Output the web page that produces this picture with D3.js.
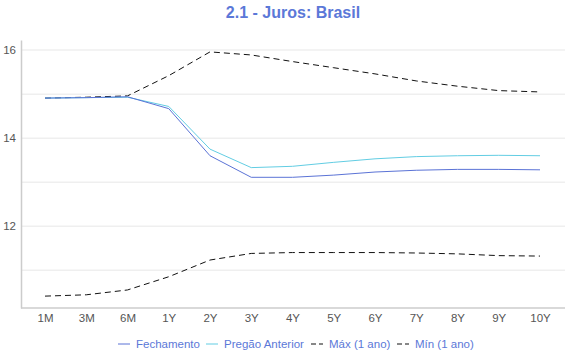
<!DOCTYPE html>
<html><head><meta charset="utf-8">
<script src="https://cdn.jsdelivr.net/npm/d3@7"></script>
<style>body{margin:0;background:#fff;font-family:"Liberation Sans",Arial,sans-serif}</style>
</head><body><svg id="c" width="570" height="360"></svg>
<script>
const categories = ["1M","3M","6M","1Y","2Y","3Y","4Y","5Y","6Y","7Y","8Y","9Y","10Y"];
const fechamento = [14.91,14.92,14.94,14.67,13.60,13.11,13.11,13.16,13.23,13.27,13.29,13.29,13.28];
const pregaoAnterior = [14.91,14.92,14.93,14.72,13.75,13.33,13.36,13.45,13.53,13.58,13.60,13.61,13.60];
const maxAno = [14.91,14.93,14.96,15.42,15.96,15.89,15.74,15.60,15.46,15.30,15.18,15.08,15.05];
const minAno = [10.41,10.44,10.55,10.85,11.23,11.38,11.40,11.40,11.40,11.39,11.37,11.33,11.32];
const yTicks = [12,14,16];
const gridTicks = [11,12,13,14,15,16];

const series = [
  {name:"Fechamento", values:fechamento, color:"#5b73d6", dash:null},
  {name:"Pregão Anterior", values:pregaoAnterior, color:"#62cde3", dash:null},
  {name:"Máx (1 ano)", values:maxAno, color:"#111", dash:"6,4"},
  {name:"Mín (1 ano)", values:minAno, color:"#111", dash:"6,4"}
];

const svg = d3.select("#c");
const L = 21, R = 565, T = 40, B = 308;
const x = d3.scalePoint().domain(categories).range([45, 540]);
const y = d3.scaleLinear().domain([10.14, 16.23]).range([B, T]);

svg.append("text").attr("x",293).attr("y",18).attr("text-anchor","middle")
  .attr("font-size",16).attr("font-weight","bold").attr("fill","#5b78d8").text("2.1 - Juros: Brasil");

svg.append("g").selectAll("line").data(gridTicks).join("line")
  .attr("x1",L).attr("x2",R).attr("y1",d=>y(d)).attr("y2",d=>y(d))
  .attr("stroke","#efefef").attr("stroke-width",1.5);

// y axis
const ya = svg.append("g").attr("transform",`translate(${L},0)`)
  .call(d3.axisLeft(y).tickValues(yTicks).tickSize(0).tickPadding(5).tickFormat(d3.format("d")));
ya.select(".domain").attr("stroke","#ccc").attr("stroke-width",1.5);
ya.selectAll("text").attr("font-size",11.5).attr("fill","#555").attr("font-family","Liberation Sans, Arial, sans-serif");

// x axis
const xa = svg.append("g").attr("transform",`translate(0,${B})`)
  .call(d3.axisBottom(x).tickSize(0).tickPadding(6));
xa.select(".domain").attr("d",`M${L},0H${R}`).attr("stroke","#ccc").attr("stroke-width",1.5);
xa.selectAll("text").attr("font-size",11.5).attr("fill","#555").attr("font-family","Liberation Sans, Arial, sans-serif");

const line = d3.line().x((d,i)=>x(categories[i])).y(d=>y(d));
[series[2],series[3],series[1],series[0]].forEach(s=>{
  svg.append("path").attr("d",line(s.values)).attr("fill","none")
    .attr("stroke",s.color).attr("stroke-width",1)
    .attr("stroke-dasharray",s.dash);
});

// legend
const legX = [118, 206, 311, 397];
const lg = svg.append("g").attr("transform","translate(0,344)");
series.forEach((s,i)=>{
  const g = lg.append("g").attr("transform",`translate(${legX[i]},0)`);
  g.append("line").attr("x1",0).attr("x2",12).attr("y1",0).attr("y2",0)
    .attr("stroke",s.color).attr("stroke-width",1).attr("stroke-dasharray",s.dash?"5,3":null);
  g.append("text").attr("x",18).attr("y",4).attr("font-size",11.5).attr("fill","#5b78d8").text(s.name);
});
</script></body></html>
